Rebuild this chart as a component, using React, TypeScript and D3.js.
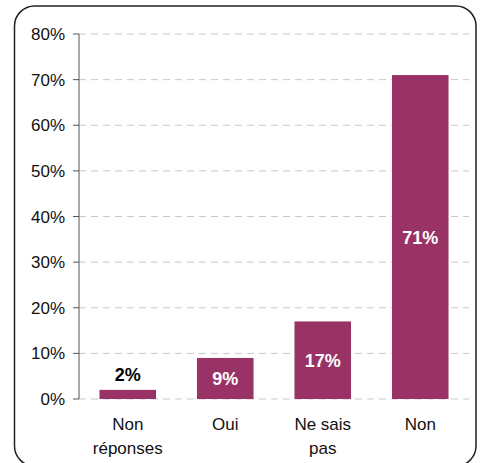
import React from "react";
import * as d3 from "d3";

const categories: string[][] = [["Non", "réponses"], ["Oui"], ["Ne sais", "pas"], ["Non"]];
const values: number[] = [2, 9, 17, 71];
const labels: string[] = ["2%", "9%", "17%", "71%"];
const yTicks: number[] = [0, 10, 20, 30, 40, 50, 60, 70, 80];

const W = 482;
const H = 463;
const left = 79;
const right = 469;
const top = 34;
const bottom = 399;
const FONT = "Liberation Sans, Arial, sans-serif";

export default function App() {
  const x = d3
    .scaleBand<number>()
    .domain(d3.range(values.length))
    .range([left, right])
    .paddingInner(0.42)
    .paddingOuter(0.21);
  const y = d3.scaleLinear().domain([0, 80]).range([bottom, top]);

  return (
    <svg
      width={W}
      height={H}
      style={{ position: "absolute", left: 0, top: 0, background: "#fff" }}
    >
      <rect x={14.5} y={6} width={461.5} height={460} rx={20} ry={20} fill="#fff" stroke="#222" strokeWidth={1.5} />
      {yTicks.map((t) => (
        <g key={t}>
          <line x1={left} x2={right} y1={y(t)} y2={y(t)} stroke="#c8c8c8" strokeWidth={1} strokeDasharray="7,5" />
          <line x1={left - 6} x2={left} y1={y(t)} y2={y(t)} stroke="#555" strokeWidth={1} />
          <text x={65} y={y(t)} dy="0.36em" textAnchor="end" fontFamily={FONT} fontSize={17} fill="#111">
            {t}%
          </text>
        </g>
      ))}
      <line x1={left} x2={left} y1={top} y2={bottom} stroke="#555" strokeWidth={1} />
      {values.map((v, i) => {
        const bx = x(i)!;
        const bw = x.bandwidth();
        const yt = y(v);
        const inside = bottom - yt > 22;
        return (
          <g key={i}>
            <rect x={bx} y={yt} width={bw} height={bottom - yt} fill="#993366" />
            <text
              x={bx + bw / 2}
              y={inside ? (yt + bottom) / 2 : yt - 8.5}
              dy={inside ? "0.36em" : 0}
              textAnchor="middle"
              fontFamily={FONT}
              fontSize={18}
              fontWeight="bold"
              fill={inside ? "#fff" : "#000"}
            >
              {labels[i]}
            </text>
            <text x={bx + bw / 2} y={430} textAnchor="middle" fontFamily={FONT} fontSize={17} fill="#111">
              {categories[i].map((line, j) => (
                <tspan key={j} x={bx + bw / 2} y={430 + j * 24}>
                  {line}
                </tspan>
              ))}
            </text>
          </g>
        );
      })}
    </svg>
  );
}
